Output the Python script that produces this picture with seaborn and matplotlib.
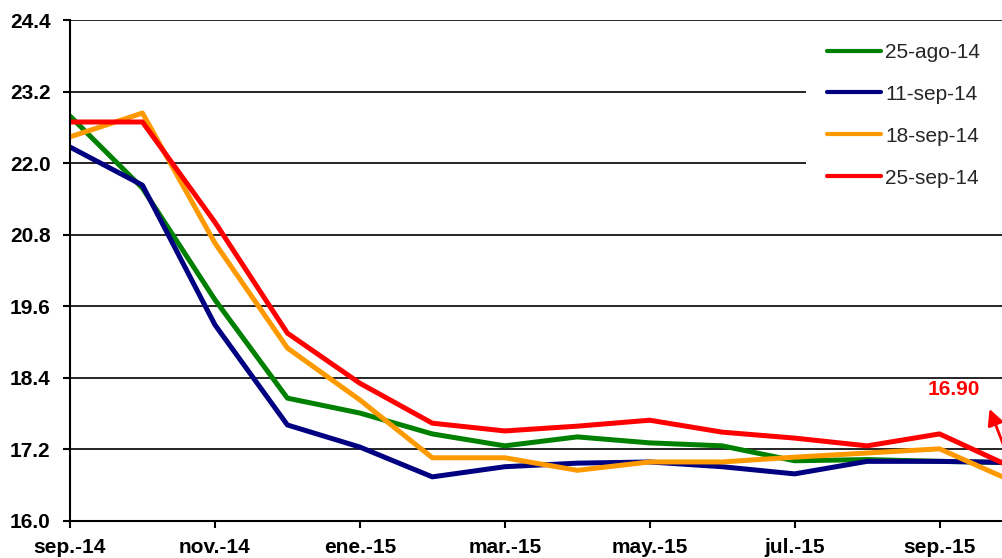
import matplotlib
matplotlib.use("Agg")
import matplotlib.pyplot as plt
import seaborn as sns
import pandas as pd
import numpy as np

# ---- data ----
months = ["sep.-14", "oct.-14", "nov.-14", "dic.-14", "ene.-15", "feb.-15", "mar.-15",
          "abr.-15", "may.-15", "jun.-15", "jul.-15", "ago.-15", "sep.-15", "oct.-15"]
tick_labels = ["sep.-14", "nov.-14", "ene.-15", "mar.-15", "may.-15", "jul.-15", "sep.-15"]
series_names = ["25-ago-14", "11-sep-14", "18-sep-14", "25-sep-14"]
s_25ago = [22.79, 21.58, 19.71, 18.06, 17.81, 17.46, 17.26, 17.41, 17.31, 17.26, 17.01, 17.03, 17.00, 16.98]
s_11sep = [22.27, 21.63, 19.29, 17.61, 17.24, 16.74, 16.91, 16.97, 16.99, 16.91, 16.79, 17.00, 17.00, 16.98]
s_18sep = [22.44, 22.84, 20.66, 18.90, 18.03, 17.06, 17.06, 16.85, 16.99, 16.99, 17.07, 17.14, 17.21, 16.67]
s_25sep = [22.69, 22.69, 21.01, 19.15, 18.31, 17.64, 17.51, 17.59, 17.69, 17.49, 17.39, 17.26, 17.46, 16.90]
y_ticks = [16.0, 17.2, 18.4, 19.6, 20.8, 22.0, 23.2, 24.4]
colors = ["#008000", "#000080", "#FF9900", "#FF0000"]
annot_text = "16.90"

rows = []
for name, vals in zip(series_names, [s_25ago, s_11sep, s_18sep, s_25sep]):
    for i, v in enumerate(vals):
        rows.append({"idx": i, "month": months[i], "value": v, "serie": name})
df = pd.DataFrame(rows)

sns.set_theme(style="white")
plt.rcParams["font.family"] = ["Liberation Sans", "DejaVu Sans"]

fig = plt.figure(figsize=(10.03, 5.58), dpi=100)
ax = fig.add_axes([70 / 1003, 37 / 558, (1012 - 70) / 1003, 501 / 558])

sns.lineplot(data=df, x="idx", y="value", hue="serie", hue_order=series_names,
             palette=colors, linewidth=3.6, ax=ax, legend=True)

ax.set_xlim(0, 13)
ax.set_ylim(16.0, 24.4)
ax.set_yticks(y_ticks)
ax.set_yticklabels([f"{t:.1f}" for t in y_ticks], fontsize=15, fontweight="bold")
ax.set_xticks([months.index(t) for t in tick_labels])
ax.set_xticklabels(tick_labels, fontsize=15, fontweight="bold")
ax.set_xlabel("")
ax.set_ylabel("")
ax.yaxis.grid(True, color="black", linewidth=1.2)
ax.xaxis.grid(False)
ax.set_axisbelow(True)
for sp in ["top", "right"]:
    ax.spines[sp].set_visible(False)
for sp in ["left", "bottom"]:
    ax.spines[sp].set_color("black")
    ax.spines[sp].set_linewidth(1.5)
ax.tick_params(axis="both", which="both", direction="out", length=5, width=1.5,
               color="black", labelcolor="black")
ax.tick_params(axis="y", pad=9, left=True)
ax.tick_params(axis="x", pad=7, bottom=True)

# annotation
last = len(months) - 1
ax.annotate(annot_text, xy=(12.69, 17.9), xytext=(12.2, 18.2), color="#FF0000",
            fontsize=15, fontweight="bold", ha="center", va="center")
ax.annotate("", xy=(12.69, 17.88), xytext=(last, s_25sep[last]),
            arrowprops=dict(arrowstyle="-|>", color="#FF0000", lw=2.0,
                            mutation_scale=24, shrinkA=0, shrinkB=0))

handles, labels = ax.get_legend_handles_labels()
leg = ax.legend(handles, labels, loc="upper left",
                bbox_to_anchor=(806 / 1003, 1 - 22 / 558, 0.25, 0),
                bbox_transform=fig.transFigure, mode="expand", fontsize=15, frameon=True,
                handlelength=2.6, handletextpad=0.2, labelspacing=1.1,
                borderpad=1.0, borderaxespad=0)
leg.get_frame().set_facecolor("white")
leg.get_frame().set_edgecolor("none")
leg.get_frame().set_alpha(1)
leg.get_frame().set_boxstyle("square", pad=0)
for line in leg.get_lines():
    line.set_linewidth(3.0)

fig.savefig("out.png", dpi=100)
